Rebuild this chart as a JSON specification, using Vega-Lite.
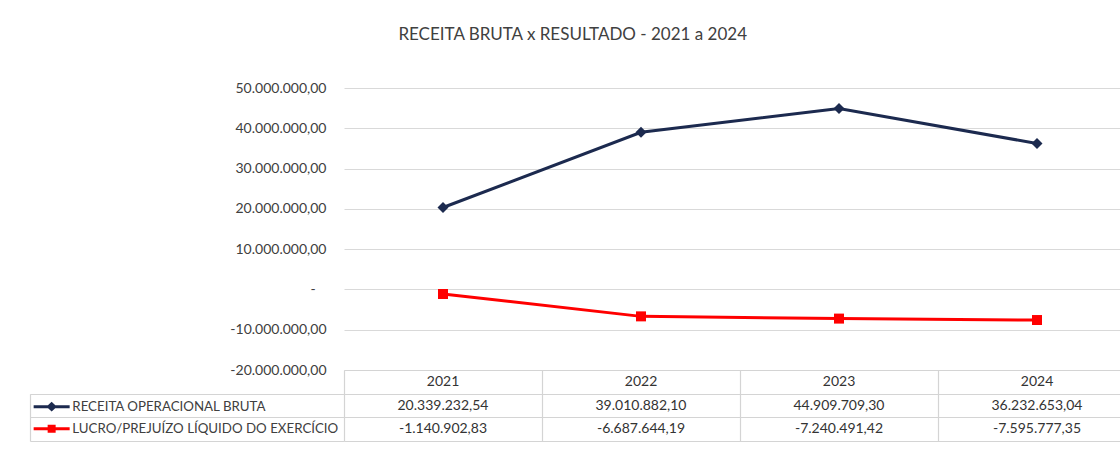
{
  "$schema": "https://vega.github.io/schema/vega-lite/v6.json",
  "padding": {"left": 29, "top": 26, "right": 0, "bottom": 8},
  "background": "white",
  "config": {
    "locale": {"number": {"decimal": ",", "thousands": ".", "grouping": [3], "currency": ["R$", ""], "minus": "-"}},
    "font": "Lato",
    "view": {"stroke": null}
  },
  "title": {"text": "RECEITA BRUTA x RESULTADO - 2021 a 2024", "fontSize": 17, "font": "Lato", "fontWeight": "normal", "color": "#404040", "anchor": "middle", "offset": 37, "dx": -10},
  "data": {"values": [
    {"ano": "2021", "serie": "RECEITA OPERACIONAL BRUTA", "valor": 20339232.54},
    {"ano": "2022", "serie": "RECEITA OPERACIONAL BRUTA", "valor": 39010882.10},
    {"ano": "2023", "serie": "RECEITA OPERACIONAL BRUTA", "valor": 44909709.30},
    {"ano": "2024", "serie": "RECEITA OPERACIONAL BRUTA", "valor": 36232653.04},
    {"ano": "2021", "serie": "LUCRO/PREJUÍZO LÍQUIDO DO EXERCÍCIO", "valor": -1140902.83},
    {"ano": "2022", "serie": "LUCRO/PREJUÍZO LÍQUIDO DO EXERCÍCIO", "valor": -6687644.19},
    {"ano": "2023", "serie": "LUCRO/PREJUÍZO LÍQUIDO DO EXERCÍCIO", "valor": -7240491.42},
    {"ano": "2024", "serie": "LUCRO/PREJUÍZO LÍQUIDO DO EXERCÍCIO", "valor": -7595777.35}
  ]},
  "spacing": 0,
  "bounds": "flush",
  "vconcat": [
    {
      "width": 792,
      "height": 282,
      "encoding": {
        "x": {"field": "ano", "type": "ordinal", "axis": null, "scale": {"type": "point", "padding": 0.5}},
        "y": {"field": "valor", "type": "quantitative",
          "scale": {"domain": [-20000000, 50000000], "nice": false, "zero": false},
          "axis": {"values": [-20000000, -10000000, 0, 10000000, 20000000, 30000000, 40000000, 50000000],
            "format": ",.2f", "labelExpr": "datum.value == 0 ? '-\u00a0\u00a0\u00a0\u200b' : datum.label",
            "labelFont": "Lato", "labelFontSize": 14, "labelColor": "#404040", "labelPadding": 18,
            "ticks": false, "domain": false, "grid": true, "gridColor": "#d9d9d9", "gridWidth": 1.2,
            "title": null}},
        "color": {"field": "serie", "type": "nominal",
          "scale": {"domain": ["RECEITA OPERACIONAL BRUTA", "LUCRO/PREJUÍZO LÍQUIDO DO EXERCÍCIO"], "range": ["#1c2a4f", "#ff0000"]},
          "legend": {"orient": "none", "legendX": -299, "legendY": 312, "title": null, "direction": "vertical",
            "symbolSize": 100, "symbolType": "M-3.6,0H3.6", "symbolStrokeWidth": 3, "labelFont": "Lato", "labelFontSize": 13.3, "labelColor": "#404040",
            "labelOffset": 14, "rowPadding": 4, "padding": 0, "labelLimit": 400,
            "encode": {"symbols": {"update": {
              "shape": {"signal": "datum.value == 'RECEITA OPERACIONAL BRUTA' ? 'M-3.6,0H3.6M-0.6,0L0,-0.55L0.6,0L0,0.55Z' : 'M-3.6,0H3.6M-0.5,-0.5H0.5V0.5H-0.5Z'"},
              "strokeWidth": {"value": 3},
              "opacity": {"value": 1}
            }}}}
        }
      },
      "layer": [
        {"mark": {"type": "line", "strokeWidth": 3}},
        {"transform": [{"filter": "datum.serie == 'RECEITA OPERACIONAL BRUTA'"}],
         "mark": {"type": "point", "filled": true, "opacity": 1, "size": 120, "shape": "diamond"}},
        {"transform": [{"filter": "datum.serie != 'RECEITA OPERACIONAL BRUTA'"}],
         "mark": {"type": "point", "filled": true, "opacity": 1, "size": 100, "shape": "square"}}
      ]
    },
    {
      "width": 792,
      "height": 71,
      "encoding": {
        "x": {"field": "ano", "type": "ordinal", "scale": {"type": "band", "paddingInner": 0, "paddingOuter": 0},
          "axis": {"orient": "bottom", "labels": false, "ticks": false, "domain": false, "grid": true, "tickBand": "extent", "gridColor": "#d4d4d4", "gridWidth": 1.2, "title": null}}
      },
      "resolve": {"axis": {"y": "independent"}},
      "layer": [
        {
          "transform": [{"filter": "datum.serie == 'RECEITA OPERACIONAL BRUTA'"}],
          "mark": {"type": "text", "font": "Lato", "fontSize": 14, "color": "#333333"},
          "encoding": {
            "y": {"datum": "Ano", "type": "nominal",
              "scale": {"type": "band", "domain": ["Ano", "RECEITA OPERACIONAL BRUTA", "LUCRO/PREJUÍZO LÍQUIDO DO EXERCÍCIO"], "paddingInner": 0, "paddingOuter": 0},
              "axis": {"orient": "left", "offset": 314, "labels": false, "ticks": true, "tickSize": -314, "tickBand": "extent",
                "tickColor": {"condition": {"test": "datum.extra", "value": "transparent"}, "value": "#d4d4d4"}, "tickWidth": 1.2,
                "domain": true, "domainColor": "#d4d4d4", "domainWidth": 1.2, "domainDash": [0, 23.67, 200],
                "grid": false, "title": null}},
            "text": {"field": "ano"}
          }
        },
        {
          "mark": {"type": "text", "font": "Lato", "fontSize": 14, "color": "#333333"},
          "encoding": {
            "y": {"field": "serie", "type": "nominal",
              "scale": {"type": "band", "domain": ["Ano", "RECEITA OPERACIONAL BRUTA", "LUCRO/PREJUÍZO LÍQUIDO DO EXERCÍCIO"], "paddingInner": 0, "paddingOuter": 0},
              "axis": {"orient": "right", "labels": false, "ticks": false, "domain": false, "tickBand": "extent",
                "grid": true, "gridColor": "#d4d4d4", "gridWidth": 1.2, "title": null}},
            "text": {"field": "valor", "type": "quantitative", "format": ",.2f"}
          }
        }
      ]
    }
  ]
}
